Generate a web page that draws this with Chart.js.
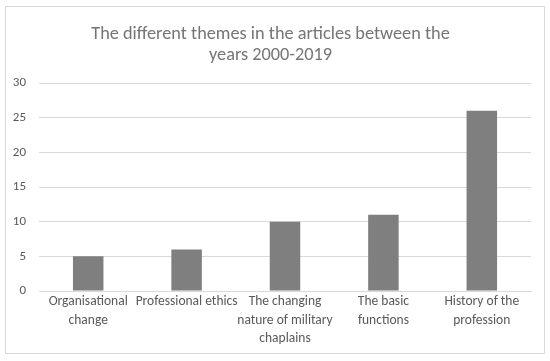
<!DOCTYPE html>
<html>
<head>
<meta charset="utf-8">
<script src="https://cdn.jsdelivr.net/npm/chart.js@4.4.0/dist/chart.umd.min.js"></script>
<style>
  html, body { margin: 0; padding: 0; background: #fff; }
  #wrap { width: 550px; height: 361px; }
</style>
</head>
<body>
<div id="wrap"><canvas id="chart" width="550" height="361"></canvas></div>
<script>
const categories = [
    ['Organisational', 'change'],
    'Professional ethics',
    ['The changing', 'nature of military', 'chaplains'],
    ['The basic', 'functions'],
    ['History of the', 'profession']
];
const themeCounts = [5, 6, 10, 11, 26];
const yTicks = [0, 5, 10, 15, 20, 25, 30];

const fontFamily = 'Carlito, Calibri, Lato, "Open Sans", sans-serif';

// thin light frame round the whole chart, like the office export
const framePlugin = {
    id: 'frame',
    beforeDraw(chart) {
        const c = chart.ctx;
        c.save();
        c.fillStyle = '#ffffff';
        c.fillRect(0, 0, chart.width, chart.height);
        c.strokeStyle = '#d9d9d9';
        c.lineWidth = 1;
        c.strokeRect(5.5, 6.5, 539, 347);
        c.restore();
    }
};

new Chart(document.getElementById('chart').getContext('2d'), {
    type: 'bar',
    data: {
        labels: categories,
        datasets: [{
            data: themeCounts,
            backgroundColor: '#7f7f7f',
            borderWidth: 0,
            categoryPercentage: 1,
            barPercentage: 0.31
        }]
    },
    options: {
        responsive: false,
        animation: false,
        layout: { padding: { left: 10, right: 19, top: 24, bottom: 8 } },
        plugins: {
            legend: { display: false },
            tooltip: { enabled: false },
            title: {
                display: true,
                text: ['The different themes in the articles between the', 'years 2000-2019'],
                color: '#757575',
                font: { family: fontFamily, size: 18.3, weight: 'normal', lineHeight: 1.15 },
                padding: { top: 0, bottom: 17 }
            }
        },
        scales: {
            x: {
                grid: { display: false, drawTicks: false },
                border: { color: '#d9d9d9' },
                ticks: {
                    color: '#595959',
                    font: { family: fontFamily, size: 13.5, lineHeight: 1.35 },
                    maxRotation: 0,
                    autoSkip: false,
                    padding: 2
                },
                afterFit(scale) { scale.height = 62; }
            },
            y: {
                min: 0,
                max: 30,
                afterBuildTicks(scale) { scale.ticks = yTicks.map(v => ({ value: v })); },
                grid: { color: '#d9d9d9', drawTicks: false },
                border: { display: false },
                ticks: {
                    color: '#595959',
                    font: { family: fontFamily, size: 13 },
                    padding: 13
                },
                afterFit(scale) { scale.width = 29; }
            }
        }
    },
    plugins: [framePlugin]
});
</script>
</body>
</html>
